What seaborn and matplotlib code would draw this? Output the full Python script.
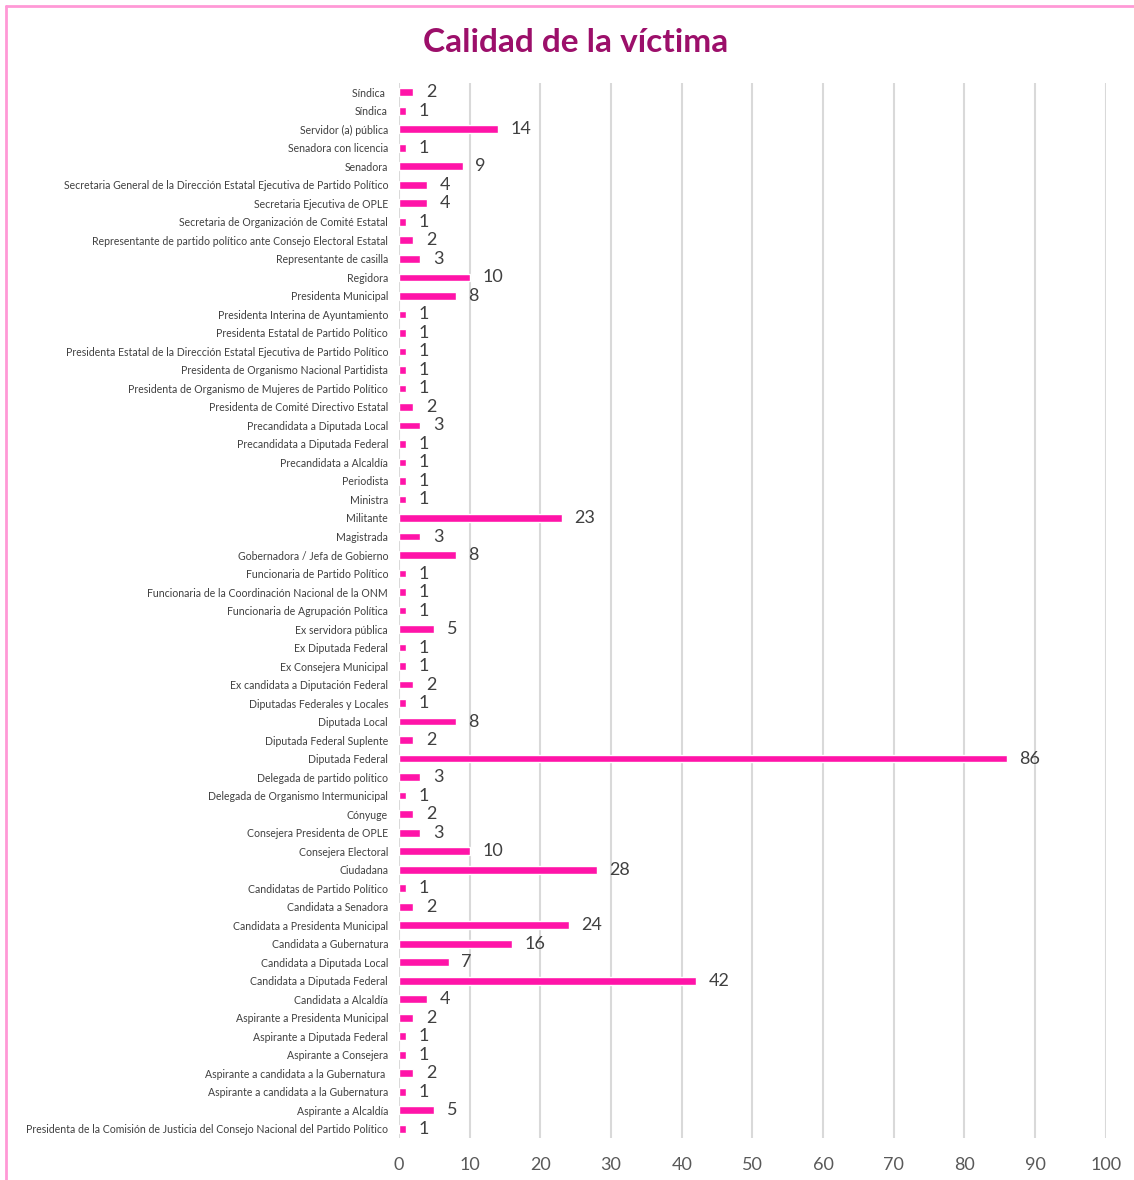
import pandas as pd
import matplotlib
matplotlib.use('Agg')
import matplotlib.pyplot as plt
import seaborn as sns

#data, top to bottom as in the chart
categorias = [
    'Síndica ', 'Síndica', 'Servidor (a) pública', 'Senadora con licencia', 'Senadora',
    'Secretaria General de la Dirección Estatal Ejecutiva de Partido Político',
    'Secretaria Ejecutiva de OPLE', 'Secretaria de Organización de Comité Estatal',
    'Representante de partido político ante Consejo Electoral Estatal',
    'Representante de casilla', 'Regidora', 'Presidenta Municipal',
    'Presidenta Interina de Ayuntamiento', 'Presidenta Estatal de Partido Político',
    'Presidenta Estatal de la Dirección Estatal Ejecutiva de Partido Político',
    'Presidenta de Organismo Nacional Partidista',
    'Presidenta de Organismo de Mujeres de Partido Político',
    'Presidenta de Comité Directivo Estatal', 'Precandidata a Diputada Local',
    'Precandidata a Diputada Federal', 'Precandidata a Alcaldía', 'Periodista', 'Ministra',
    'Militante', 'Magistrada', 'Gobernadora / Jefa de Gobierno',
    'Funcionaria de Partido Político', 'Funcionaria de la Coordinación Nacional de la ONM',
    'Funcionaria de Agrupación Política', 'Ex servidora pública', 'Ex Diputada Federal',
    'Ex Consejera Municipal', 'Ex candidata a Diputación Federal',
    'Diputadas Federales y Locales', 'Diputada Local', 'Diputada Federal Suplente',
    'Diputada Federal', 'Delegada de partido político', 'Delegada de Organismo Intermunicipal',
    'Cónyuge', 'Consejera Presidenta de OPLE', 'Consejera Electoral', 'Ciudadana',
    'Candidatas de Partido Político', 'Candidata a Senadora',
    'Candidata a Presidenta Municipal', 'Candidata a Gubernatura',
    'Candidata a Diputada Local', 'Candidata a Diputada Federal', 'Candidata a Alcaldía',
    'Aspirante a Presidenta Municipal', 'Aspirante a Diputada Federal',
    'Aspirante a Consejera', 'Aspirante a candidata a la Gubernatura ',
    'Aspirante a candidata a la Gubernatura', 'Aspirante a Alcaldía',
    'Presidenta de la Comisión de Justicia del Consejo Nacional del Partido Político',
]
valores = [2, 1, 14, 1, 9, 4, 4, 1, 2, 3, 10, 8, 1, 1, 1, 1, 1, 2, 3, 1, 1, 1, 1,
           23, 3, 8, 1, 1, 1, 5, 1, 1, 2, 1, 8, 2, 86, 3, 1, 2, 3, 10, 28, 1, 2,
           24, 16, 7, 42, 4, 2, 1, 1, 2, 1, 5, 1]
ticks_x = list(range(0, 101, 10))

df = pd.DataFrame({'categoria': categorias, 'casos': valores})

sns.set_theme(style='white')
plt.rcParams['font.family'] = ['Lato', 'DejaVu Sans']

fig = plt.figure(figsize=(11.34, 11.8), dpi=100)
ax = fig.add_axes([0.352, 0.0356, 0.623, 0.894])

sns.barplot(data=df, x='casos', y='categoria', orient='h', color='#FF14A8',
            width=0.42, saturation=1, ax=ax)

#value labels
for i, v in enumerate(valores):
    ax.annotate(str(v), xy=(v, i), xytext=(9, 0), textcoords='offset points',
                va='center', ha='left', fontsize=13, color='#404040')

ax.set_xlim(0, 100)
ax.set_xticks(ticks_x)
ax.set_xticklabels([str(t) for t in ticks_x], fontsize=13, color='#595959')
ax.tick_params(axis='x', length=0, pad=14)
ax.tick_params(axis='y', length=0, pad=8, labelsize=7.6, labelcolor='#404040')
ax.set_xlabel('')
ax.set_ylabel('')
ax.grid(axis='x', color='#D9D9D9', linewidth=1.5)
ax.set_axisbelow(True)
sns.despine(ax=ax, left=True, bottom=True)

fig.text(0.508, 0.964, 'Calidad de la víctima', ha='center', va='center',
         fontsize=24, fontweight='bold', color='#9C0F6A')

#pink frame (top and left)
fig.add_artist(plt.Line2D([0.0053, 1.0], [0.9945, 0.9945], color='#FF99D6', linewidth=2))
fig.add_artist(plt.Line2D([0.0053, 0.0053], [0.0, 0.9945], color='#FF99D6', linewidth=2))

fig.savefig('out.png', dpi=100)
